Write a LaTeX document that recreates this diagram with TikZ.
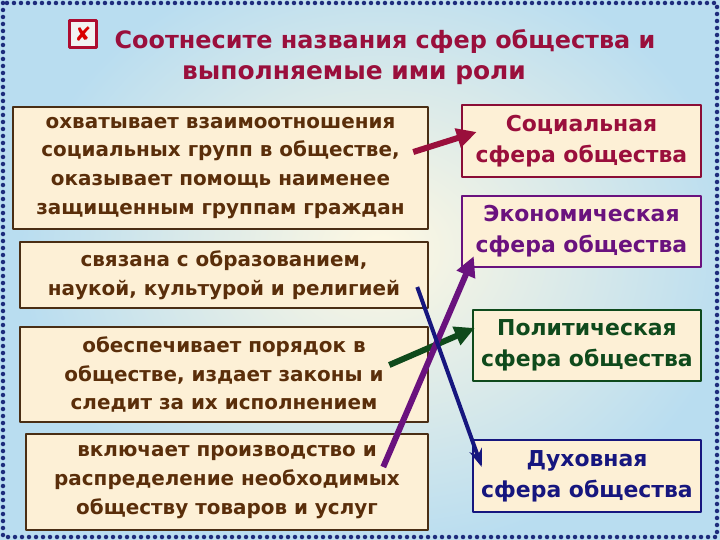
\documentclass[tikz,border=0pt]{standalone}
\usepackage{fontspec}
\setmainfont{DejaVu Sans}
\usetikzlibrary{arrows.meta,positioning}
\definecolor{bgblue}{HTML}{B9DDF0}
\definecolor{cream}{HTML}{FDF0D6}
\definecolor{glow}{HTML}{FFF8E2}
\definecolor{boxline}{HTML}{4A2E14}
\definecolor{roletext}{HTML}{5A2E0A}
\definecolor{crim}{HTML}{9A0F3C}
\definecolor{purp}{HTML}{6A127E}
\definecolor{dgreen}{HTML}{0F4A1C}
\definecolor{navy}{HTML}{16167E}
\definecolor{dotblue}{HTML}{1E2C7C}

\begin{document}
\begin{tikzpicture}[x=1bp,y=-1bp,line join=round]
  % Styles for the left (roles) and right (spheres) boxes
  \tikzstyle{roleL}=[rectangle,draw=boxline,line width=2.5bp,fill=cream,text=roletext,align=center,inner sep=0pt,font=\fontsize{20}{29}\selectfont\bfseries]
  \tikzstyle{sphere}=[rectangle,line width=2.5bp,fill=cream,align=center,inner sep=0pt,minimum width=228bp,minimum height=71bp,font=\fontsize{22}{31}\selectfont\bfseries]
  \tikzstyle{link}=[line width=6bp,-{Triangle[length=20bp,width=19bp]}]

  \useasboundingbox (0,0) rectangle (720,540);
  % background
  \fill[bgblue] (0,0) rectangle (720,540);
  \shade[inner color=glow,outer color=bgblue] (380,250) ellipse (360 and 300);
  \draw[dotblue,line width=4.5bp,dash pattern=on 0pt off 7bp,line cap=round] (3,3) rectangle (717,537);

  % title
  \node[rectangle,draw=crim!80!red,line width=2.5bp,fill=white!90!gray,minimum size=27bp,inner sep=0pt,
        text=red!85!black,font=\fontsize{20}{20}\selectfont\bfseries] (icon) at (83,34) {✘};
  \node[text=crim,font=\fontsize{24}{24}\selectfont\bfseries] (title1) at (385,42) {Соотнесите названия сфер общества и};
  \node[text=crim,font=\fontsize{25}{25}\selectfont\bfseries] (title2) at (354,75) {выполняемые ими роли};

  % roles
  \node[roleL,minimum width=415bp,minimum height=122bp] (Lsoc) at (220.5,168)
    {охватывает взаимоотношения\\социальных групп в обществе,\\оказывает помощь наименее\\защищенным группам граждан};
  \node[roleL,minimum width=408bp,minimum height=66bp] (Lspir) at (224,275)
    {связана с образованием,\\наукой, культурой и религией};
  \node[roleL,minimum width=408bp,minimum height=95bp] (Lpol) at (224,374.5)
    {обеспечивает порядок в\\обществе, издает законы и\\следит за их исполнением};
  \node[roleL,minimum width=402bp,minimum height=96bp] (Lecon) at (227,482)
    {включает производство и\\распределение необходимых\\обществу товаров и услуг};

  % spheres
  \node[sphere,draw=crim!90!black,text=crim,minimum width=239bp,minimum height=72bp] (soc) at (581.5,141)
    {Социальная\\сфера общества};
  \node[sphere,draw=purp,text=purp,minimum width=239bp] (econ) at (581.5,231.5)
    {Экономическая\\сфера общества};
  \node[sphere,draw=dgreen,text=dgreen] (pol) at (587,345.5)
    {Политическая\\сфера общества};
  \node[sphere,draw=navy,text=navy,minimum height=72bp] (spir) at (587,476)
    {Духовная\\сфера общества};

  % arrow ends
  \coordinate (aSoc)  at ([shift={(-16,-16)}]Lsoc.east);
  \coordinate (bSoc)  at ([shift={(16,-9)}]soc.west);
  \coordinate (aPol)  at ([shift={(-40,-9.5)}]Lpol.east);
  \coordinate (bPol)  at ([shift={(3,-17.5)}]pol.west);
  \coordinate (aEcon) at ([shift={(-46,-15)}]Lecon.east);
  \coordinate (bEcon) at ([shift={(13,-12)}]econ.south west);
  \coordinate (aSpir) at ([shift={(-12,12)}]Lspir.east);
  \coordinate (bSpir) at ([shift={(10,-9)}]spir.west);

  \path (aSoc) edge[link,crim] (bSoc);
  \path (aPol) edge[link,dgreen] (bPol);
  \path (aEcon) edge[link,purp] (bEcon);
  \path (aSpir) edge[navy,line width=4bp,-{Stealth[length=18bp,width=13bp]}] (bSpir);
\end{tikzpicture}
\end{document}
